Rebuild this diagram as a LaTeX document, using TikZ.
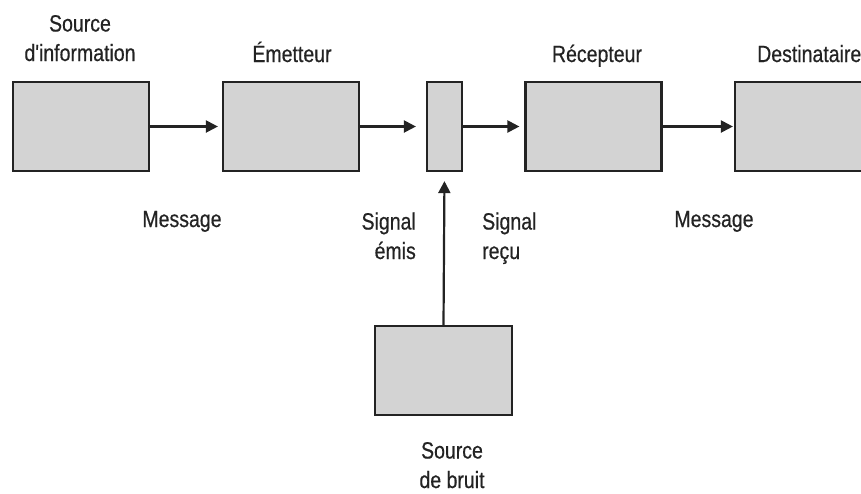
\documentclass[tikz,border=0pt]{standalone}
\usepackage{fontspec}
\setmainfont[FakeStretch=0.83,FakeBold=0.5,Ligatures=TeXOff]{Liberation Sans}
\usetikzlibrary{arrows.meta}
\definecolor{boxfill}{RGB}{211,211,211}
\definecolor{ink}{RGB}{35,35,35}
\begin{document}
\begin{tikzpicture}[x=1pt,y=-1pt,
  blk/.style={draw=ink,fill=boxfill,line width=2.2pt,inner sep=0pt,minimum width=136pt,minimum height=89pt},
  thin/.style={blk,minimum width=35pt},
  conn/.style={draw=ink,line width=2.2pt,-{Triangle[length=12pt,width=12pt]}},
  lbl/.style={text=ink,inner sep=0pt,align=center,font=\fontsize{23.5}{29.5}\selectfont},
  lblr/.style={lbl,align=right},
  lbll/.style={lbl,align=left}]
\useasboundingbox (0,0) rectangle (861,493);
\clip (0,0) rectangle (861,493);
\node[blk] (src) at (81,126.5) {};
\node[blk] (em) at (291,126.5) {};
\node[thin] (ch) at (444.5,126.5) {};
\node[blk] (rec) at (593.5,126.5) {};
\node[blk] (dst) at (803,126.5) {};
\node[blk,minimum width=137pt] (nz) at (443.5,370.5) {};
\draw[conn,shorten >=4pt] (src.east) -- (em.west);
\draw[conn,shorten >=10pt] (em.east) -- (ch.west);
\draw[conn,shorten >=5pt] (ch.east) -- (rec.west);
\draw[conn,shorten >=1pt] (rec.east) -- (dst.west);
\draw[conn,shorten >=9pt] (nz.north) -- (ch.south);
\node[lbl,anchor=base] (tsrc) at (80,61) {Source\\d'information};
\node[lbl,anchor=base] (tem) at (292,62) {Émetteur};
\node[lbl,anchor=base] (trec) at (597,62) {Récepteur};
\node[lbl,anchor=base west] (tdst) at (757,62) {Destinataire};
\node[lbl,anchor=base] (tm1) at (182,227) {Message};
\node[lblr,anchor=base east] (tse) at (416,259) {Signal\\émis};
\node[lbll,anchor=base west] (tsr) at (482,259) {Signal\\reçu};
\node[lbl,anchor=base] (tm2) at (714,227) {Message};
\node[lbl,anchor=base] (tnz) at (452,488) {Source\\de bruit};
\end{tikzpicture}
\end{document}
